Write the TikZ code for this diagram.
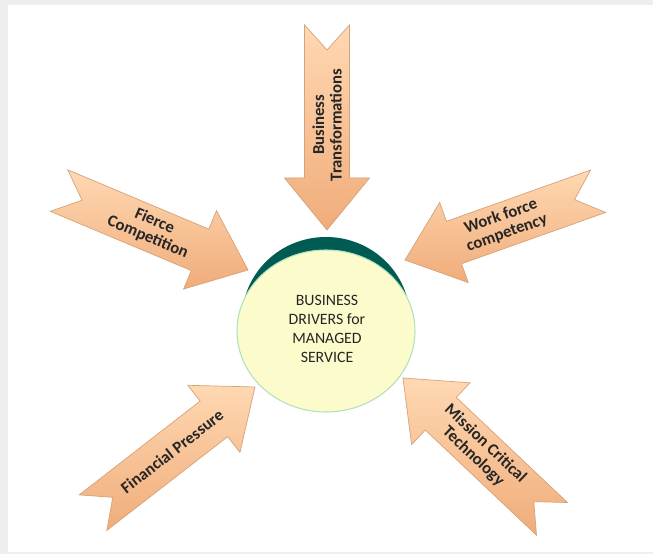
\documentclass[tikz,border=0pt]{standalone}
\usepackage{fontspec}
\setmainfont{Carlito}

\definecolor{peachlight}{RGB}{255,216,178}
\definecolor{peachdark}{RGB}{240,172,122}
\definecolor{peachline}{RGB}{214,162,120}
\definecolor{hubfill}{RGB}{252,251,204}
\definecolor{hubline}{RGB}{178,224,190}
\definecolor{hubtop}{RGB}{0,92,82}
\definecolor{framegray}{RGB}{238,238,238}

\tikzset{
  driver/.style={top color=peachlight, bottom color=peachdark, draw=peachline, line width=0.4pt},
  drivertext/.style={font=\fontsize{9.5}{10}\selectfont\bfseries, align=center, text=black!85},
  hub/.style={fill=hubfill, draw=hubline, line width=0.6pt},
}

% name, tip x, tip y, direction, text angle, text
\newcommand{\driverarrow}[6]{%
  \begin{scope}[shift={(#2,#3)}, rotate=#4]
    \draw[driver] (0,0) -- (-52,42.5) -- (-52,22.5) -- (-205,22.5) -- (-180,0)
      -- (-205,-22.5) -- (-52,-22.5) -- (-52,-42.5) -- cycle;
    \node[drivertext, rotate=#5] (#1) at (-105,0) {#6};
  \end{scope}
}

\begin{document}
\begin{tikzpicture}[x=0.02cm, y=0.02cm]
  \useasboundingbox (0,0) rectangle (653,554);
  \fill[framegray] (0,0) rectangle (653,554);
  \fill[white] (8,2) rectangle (653,549);

  % hub
  \fill[hubtop] (326,235) ellipse [x radius=84, y radius=82];
  \draw[hub] (326,223) ellipse [x radius=89, y radius=81];
  \node[align=center, text=black!85, font=\fontsize{9}{10.8}\selectfont] (hub) at (327,225)
    {BUSINESS\\DRIVERS for\\MANAGED\\SERVICE};

  % drivers
  \driverarrow{transform}{327}{324}{-90}{90}{Business\\Transformations}
  \driverarrow{fierce}{248}{284}{-22.8}{-22.8}{Fierce\\Competition}
  \driverarrow{workforce}{405}{294}{-160.4}{19.6}{Work force\\competency}
  \driverarrow{finance}{255}{167}{37.8}{37.8}{Financial Pressure}
  \driverarrow{mission}{403}{176}{136.6}{-43.4}{Mission Critical\\Technology}
\end{tikzpicture}
\end{document}
